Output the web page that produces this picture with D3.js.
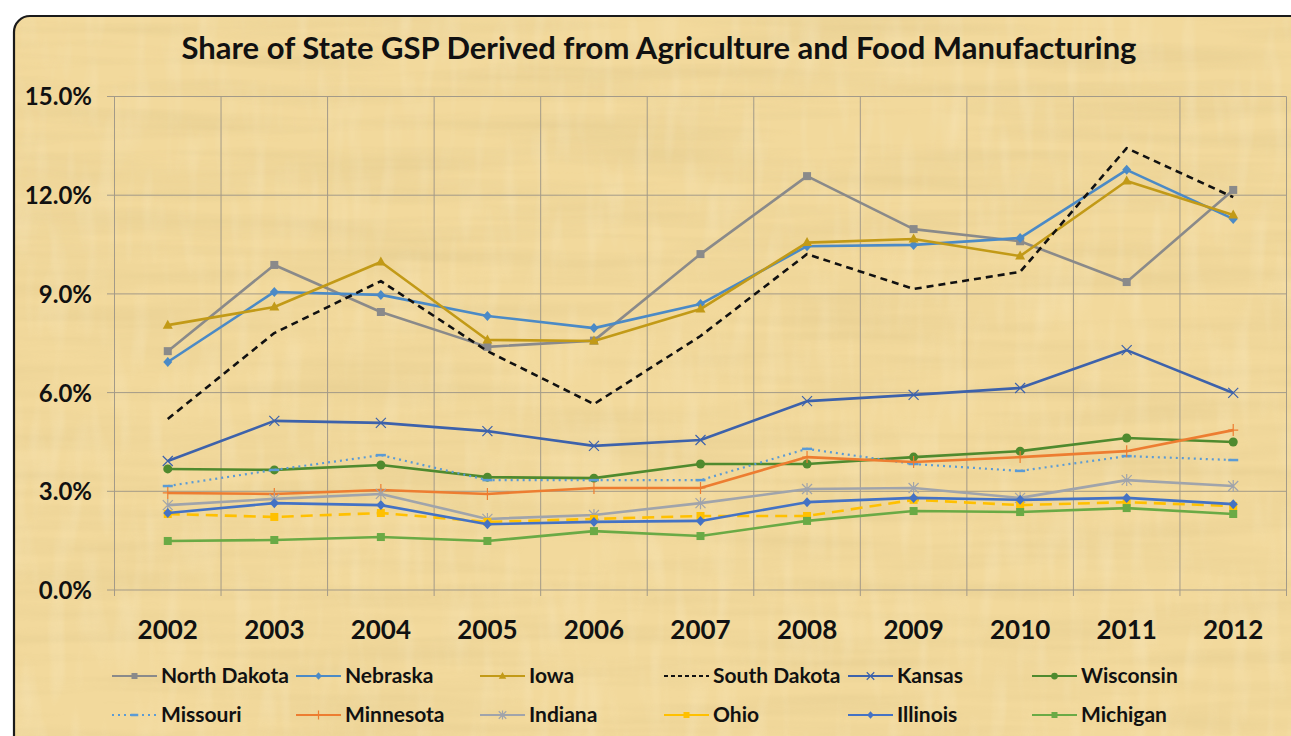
<!DOCTYPE html>
<html><head><meta charset="utf-8">
<script src="https://cdn.jsdelivr.net/npm/d3@7/dist/d3.min.js"></script>
<style>html,body{margin:0;padding:0;background:#fff;overflow:hidden}svg{display:block}</style>
</head><body>
<script>
const years = ["2002","2003","2004","2005","2006","2007","2008","2009","2010","2011","2012"];
const yTicks = [0, 3, 6, 9, 12, 15];
const title = "Share of State GSP Derived from Agriculture and Food Manufacturing";

const northDakota = [7.26, 9.88, 8.45, 7.39, 7.58, 10.21, 12.58, 10.97, 10.60, 9.36, 12.16];
const nebraska    = [6.93, 9.06, 8.97, 8.33, 7.96, 8.69, 10.45, 10.49, 10.70, 12.77, 11.28];
const iowa        = [8.05, 8.60, 9.97, 7.60, 7.57, 8.54, 10.56, 10.67, 10.15, 12.43, 11.40];
const southDakota = [5.20, 7.81, 9.39, 7.26, 5.65, 7.72, 10.21, 9.15, 9.67, 13.43, 11.94];
const kansas      = [3.92, 5.14, 5.08, 4.83, 4.38, 4.56, 5.74, 5.93, 6.14, 7.29, 5.99];
const wisconsin   = [3.68, 3.65, 3.80, 3.43, 3.40, 3.83, 3.83, 4.04, 4.22, 4.62, 4.50];
const missouri    = [3.16, 3.65, 4.10, 3.34, 3.34, 3.34, 4.29, 3.83, 3.62, 4.07, 3.95];
const minnesota   = [2.95, 2.92, 3.04, 2.92, 3.10, 3.10, 4.04, 3.89, 4.04, 4.22, 4.86];
const indiana     = [2.58, 2.77, 2.92, 2.16, 2.28, 2.64, 3.07, 3.10, 2.80, 3.34, 3.16];
const ohio        = [2.31, 2.22, 2.34, 2.07, 2.16, 2.25, 2.25, 2.74, 2.58, 2.67, 2.55];
const illinois    = [2.34, 2.64, 2.58, 2.00, 2.07, 2.10, 2.67, 2.80, 2.74, 2.80, 2.61];
const michigan    = [1.49, 1.52, 1.61, 1.49, 1.79, 1.64, 2.10, 2.40, 2.37, 2.49, 2.31];

const series = [
  {name:"North Dakota", values:northDakota, color:"#8a8a8a", marker:"square", dash:null},
  {name:"Nebraska",     values:nebraska,    color:"#4b8ac6", marker:"diamond", dash:null},
  {name:"Iowa",         values:iowa,        color:"#c29a17", marker:"triangle", dash:null},
  {name:"South Dakota", values:southDakota, color:"#111111", marker:"none", dash:"7,5"},
  {name:"Kansas",       values:kansas,      color:"#3d62ab", marker:"x", dash:null},
  {name:"Wisconsin",    values:wisconsin,   color:"#4f8a2e", marker:"circle", dash:null},
  {name:"Missouri",     values:missouri,    color:"#5b9bd5", marker:"dash", dash:"2,4"},
  {name:"Minnesota",    values:minnesota,   color:"#ed7d31", marker:"plus", dash:null},
  {name:"Indiana",      values:indiana,     color:"#a0a4ab", marker:"star", dash:null},
  {name:"Ohio",         values:ohio,        color:"#ffc000", marker:"square", dash:"12,7"},
  {name:"Illinois",     values:illinois,    color:"#4472c4", marker:"diamond", dash:null},
  {name:"Michigan",     values:michigan,    color:"#6aaa45", marker:"square", dash:null}
];

const W = 1291, H = 736;
const svg = d3.select("body").append("svg").attr("width", W).attr("height", H);
const defs = svg.append("defs");

// papyrus-like texture
const f = defs.append("filter").attr("id","papyrus").attr("x",0).attr("y",0).attr("width","100%").attr("height","100%");
f.append("feTurbulence").attr("type","fractalNoise").attr("baseFrequency","0.004 0.06").attr("numOctaves",3).attr("seed",4).attr("result","n");
f.append("feColorMatrix").attr("in","n").attr("type","matrix")
  .attr("values","0 0 0 0 0.62  0 0 0 0 0.48  0 0 0 0 0.20  1.2 0 0 0 -0.45");
const f2 = defs.append("filter").attr("id","papyrus2").attr("x",0).attr("y",0).attr("width","100%").attr("height","100%");
f2.append("feTurbulence").attr("type","fractalNoise").attr("baseFrequency","0.06 0.012").attr("numOctaves",2).attr("seed",9).attr("result","n");
f2.append("feColorMatrix").attr("in","n").attr("type","matrix")
  .attr("values","0 0 0 0 1  0 0 0 0 0.97  0 0 0 0 0.85  1.1 0 0 0 -0.5");

const clip = defs.append("clipPath").attr("id","frame");
clip.append("rect").attr("x",14).attr("y",16).attr("width",1300).attr("height",740).attr("rx",16);

const bg = svg.append("g").attr("clip-path","url(#frame)");
bg.append("rect").attr("x",14).attr("y",16).attr("width",1300).attr("height",740).attr("fill","#f2d99c");
bg.append("rect").attr("x",14).attr("y",16).attr("width",1300).attr("height",740).attr("filter","url(#papyrus)").attr("opacity",0.35);
bg.append("rect").attr("x",14).attr("y",16).attr("width",1300).attr("height",740).attr("filter","url(#papyrus2)").attr("opacity",0.35);
svg.append("rect").attr("x",14).attr("y",16).attr("width",1300).attr("height",740).attr("rx",16)
  .attr("fill","none").attr("stroke","#1a1a1a").attr("stroke-width",2.2);

const fontFam = "Lato,'Open Sans','DejaVu Sans',sans-serif";

const x = d3.scaleBand().domain(years).range([114.5, 1286.5]).padding(0);
const y = d3.scaleLinear().domain([0, 15]).range([590, 96.5]);
const cx = d => x(d) + x.bandwidth()/2;

// gridlines
const grid = svg.append("g");
grid.selectAll("line.h").data(yTicks).join("line")
  .attr("x1", 107).attr("x2", 1286.5).attr("y1", d=>y(d)).attr("y2", d=>y(d))
  .attr("stroke","#a39a88").attr("stroke-width",1);
const vEdges = years.map(d=>x(d)).concat([x(years[years.length-1]) + x.bandwidth()]);
grid.selectAll("line.v").data(vEdges).join("line")
  .attr("x1", d=>d).attr("x2", d=>d).attr("y1", y(15)).attr("y2", y(0)+6)
  .attr("stroke","#a39a88").attr("stroke-width",1);

// axes labels
const yAxis = d3.axisLeft(y).tickValues(yTicks).tickFormat(d => d3.format(".1%")(d/100)).tickSize(0).tickPadding(0);
const ya = svg.append("g").attr("transform","translate(92,0)").call(yAxis);
ya.select(".domain").remove();
ya.selectAll("text").attr("font-family",fontFam).attr("font-weight","bold").attr("font-size",24).attr("fill","#111").attr("dy","0.35em");

const xAxis = d3.axisBottom(x).tickSize(0).tickPadding(0);
const xa = svg.append("g").attr("transform","translate(0,630)").call(xAxis);
xa.select(".domain").remove();
xa.selectAll("text").attr("font-family",fontFam).attr("font-weight","bold").attr("font-size",26).attr("fill","#111").attr("dy","0.35em");

// title
svg.append("text").attr("x",659).attr("y",51).attr("text-anchor","middle").attr("dominant-baseline","middle")
  .attr("font-family",fontFam).attr("font-weight","bold").attr("font-size",30).attr("fill","#111")
  .attr("textLength",955).attr("lengthAdjust","spacingAndGlyphs").text(title);

function drawMarker(g, type, color, px, py, s) {
  s = s || 1;
  if (type === "square") g.append("rect").attr("x",px-4*s).attr("y",py-4*s).attr("width",8*s).attr("height",8*s).attr("fill",color);
  else if (type === "diamond") g.append("path").attr("d",`M${px},${py-5*s}L${px+4.5*s},${py}L${px},${py+5*s}L${px-4.5*s},${py}Z`).attr("fill",color);
  else if (type === "triangle") g.append("path").attr("d",`M${px},${py-5.5*s}L${px+5*s},${py+3.5*s}L${px-5*s},${py+3.5*s}Z`).attr("fill",color);
  else if (type === "circle") g.append("circle").attr("cx",px).attr("cy",py).attr("r",4.5*s).attr("fill",color);
  else if (type === "x") g.append("path").attr("d",`M${px-5*s},${py-5*s}L${px+5*s},${py+5*s}M${px-5*s},${py+5*s}L${px+5*s},${py-5*s}`).attr("stroke",color).attr("stroke-width",1.2);
  else if (type === "plus") g.append("path").attr("d",`M${px-5*s},${py}L${px+5*s},${py}M${px},${py-6*s}L${px},${py+6*s}`).attr("stroke",color).attr("stroke-width",1.2);
  else if (type === "dash") g.append("path").attr("d",`M${px-5*s},${py}L${px+5*s},${py}`).attr("stroke",color).attr("stroke-width",2.5);
  else if (type === "star") g.append("path").attr("d",`M${px-5*s},${py-5*s}L${px+5*s},${py+5*s}M${px-5*s},${py+5*s}L${px+5*s},${py-5*s}M${px},${py-6*s}L${px},${py+6*s}`).attr("stroke",color).attr("stroke-width",1.2);
}

const line = d3.line().x((d,i)=>cx(years[i])).y(d=>y(d));
const plot = svg.append("g");
series.forEach(s => {
  const g = plot.append("g");
  g.append("path").attr("d", line(s.values)).attr("fill","none").attr("stroke",s.color)
    .attr("stroke-width", s.dash === "2,4" ? 2.2 : 2.6).attr("stroke-dasharray", s.dash).attr("stroke-linejoin","round");
  if (s.marker !== "none") s.values.forEach((v,i) => drawMarker(g, s.marker, s.color, cx(years[i]), y(v), 1));
});

// legend
const leg = svg.append("g");
series.forEach((s, i) => {
  const col = i % 6, row = Math.floor(i / 6);
  const lx = 112 + col * 184, ly = row === 0 ? 676 : 715;
  const g = leg.append("g");
  g.append("line").attr("x1",lx).attr("x2",lx+45).attr("y1",ly).attr("y2",ly).attr("stroke",s.color)
    .attr("stroke-width",2.2).attr("stroke-dasharray", s.dash === "7,5" ? "4,3" : s.dash === "12,7" ? null : s.dash);
  if (s.marker !== "none") drawMarker(g, s.marker, s.color, lx+22.5, ly, 0.75);
  g.append("text").attr("x",lx+49).attr("y",ly).attr("dy","0.35em").attr("font-family",fontFam)
    .attr("font-weight","bold").attr("font-size",21).attr("fill","#111").text(s.name);
});
</script>
</body></html>
